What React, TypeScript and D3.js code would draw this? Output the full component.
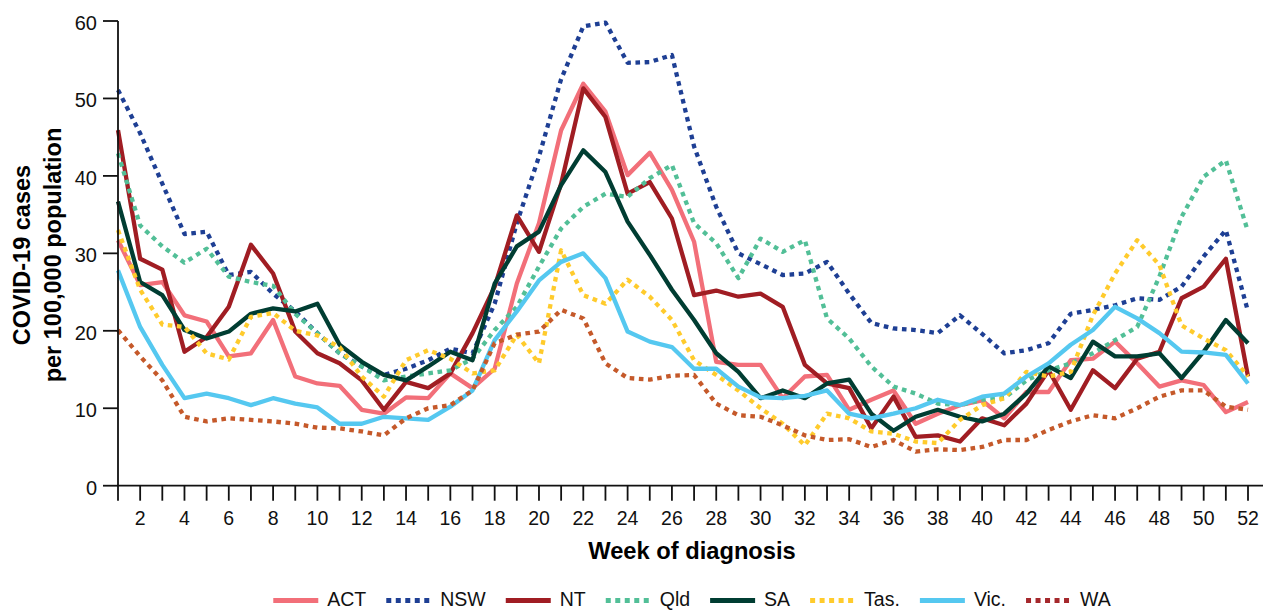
import React, { useMemo } from 'react';
import * as d3 from 'd3';

// Weekly COVID-19 notification rates per 100,000 population, by jurisdiction
const weeks = d3.range(1, 53);

const act = [31.7, 25.9, 26.3, 22, 21.2, 16.7, 17.1, 21.4, 14.1, 13.2, 12.9, 9.8, 9.3, 11.4, 11.3, 14.5, 12.6, 15.1, 26.1, 33.9, 45.9, 51.9, 48.3, 40.1, 43, 38.2, 31.5, 16, 15.6, 15.6, 11.3, 14.1, 14.3, 9.8, 11.1, 12.3, 8, 9.3, 10.4, 11, 8.7, 12.1, 12.1, 16.2, 16.4, 18.6, 15.8, 12.8, 13.6, 13, 9.5, 10.8];
const nsw = [51.1, 45.5, 39, 32.5, 32.8, 27.2, 27.6, 24.8, 22.5, 19.7, 17.1, 15.4, 14.3, 15.1, 16.2, 17.7, 17.1, 23.5, 33.9, 42.5, 52.5, 59.3, 59.8, 54.6, 54.7, 55.6, 43.8, 36, 30, 28.6, 27.2, 27.4, 28.9, 24.8, 21, 20.3, 20.1, 19.7, 22, 19.6, 17.1, 17.5, 18.4, 22.2, 22.7, 23.3, 24.2, 24, 25.7, 29.6, 33, 22.5];
const nt = [45.9, 29.3, 27.9, 17.3, 19.2, 23.1, 31.1, 27.4, 19.9, 17.1, 15.8, 13.6, 9.8, 13.4, 12.6, 14.5, 19.7, 25.7, 34.9, 30.2, 39, 51.3, 47.6, 37.7, 39.2, 34.5, 24.6, 25.2, 24.4, 24.8, 23.1, 15.6, 13.2, 12.6, 7.4, 11.5, 6.3, 6.5, 5.7, 8.7, 7.8, 10.6, 14.9, 9.8, 14.9, 12.6, 16.4, 17.3, 24.2, 25.7, 29.3, 14.1];
const qld = [42.9, 33.6, 30.9, 28.8, 30.6, 27, 26.3, 25.8, 22.2, 19.7, 17.1, 15.4, 13.6, 14.1, 14.5, 14.9, 16.4, 20.1, 23.1, 28.3, 33.2, 36, 37.7, 37.3, 39.7, 41.4, 33.9, 31.3, 26.8, 31.9, 30.2, 31.7, 21.6, 19, 15.4, 12.8, 11.9, 10.6, 10.4, 11.1, 11.3, 13.6, 14.9, 15.8, 17.1, 18.8, 20.5, 27, 34.7, 39.9, 42, 32.8];
const sa = [36.7, 26.3, 24.6, 20.1, 19, 19.9, 22.2, 22.9, 22.5, 23.5, 18.2, 16, 14.3, 13.6, 15.4, 17.3, 16.2, 26.1, 30.9, 32.8, 38.8, 43.3, 40.5, 34.1, 29.8, 25.3, 21.4, 17.1, 14.7, 11.3, 12.3, 11.3, 13.2, 13.7, 9.3, 7.1, 8.9, 9.8, 8.9, 8.3, 9.3, 11.9, 15.4, 13.9, 18.6, 16.7, 16.7, 17.1, 13.9, 17.3, 21.4, 18.4];
const tas = [33, 25.3, 20.8, 20.5, 17.1, 16.3, 21.8, 22.3, 20, 19.4, 17.9, 14.1, 11.5, 16.2, 17.5, 16.4, 14.5, 14.9, 19.5, 15.8, 30.4, 24.6, 23.5, 26.6, 24.4, 21.4, 16.2, 14.3, 12.3, 10, 8, 5.2, 9.3, 8.7, 7, 6.7, 5.7, 5.5, 8.5, 10.4, 11.3, 14.7, 14.1, 14.7, 22, 27.4, 31.7, 28.5, 20.7, 19, 17.5, 14.1];
const vic = [27.8, 20.5, 15.6, 11.3, 11.9, 11.3, 10.4, 11.3, 10.6, 10.1, 8, 8, 8.9, 8.7, 8.5, 10.2, 12.3, 18.8, 22.5, 26.5, 28.9, 30, 26.8, 19.9, 18.6, 17.9, 15.1, 15.1, 12.8, 11.4, 11.3, 11.6, 12.3, 9.3, 8.7, 9.3, 10, 11.1, 10.4, 11.5, 11.9, 14.1, 15.8, 18.2, 20.1, 23.1, 21.6, 19.7, 17.3, 17.2, 16.9, 13.2];
const wa = [20.1, 16.7, 13.6, 8.9, 8.3, 8.7, 8.5, 8.3, 8, 7.5, 7.4, 7, 6.5, 8.7, 10, 10.4, 12.3, 18.4, 19.5, 19.9, 22.7, 21.6, 15.8, 13.9, 13.7, 14.2, 14.3, 10.6, 9.1, 8.9, 7.8, 6.5, 5.9, 6, 5, 5.9, 4.4, 4.7, 4.6, 5, 5.9, 5.9, 7.2, 8.3, 9.1, 8.7, 10, 11.5, 12.3, 12.3, 10.2, 9.8];

const seriesNames = ['ACT', 'NSW', 'NT', 'Qld', 'SA', 'Tas.', 'Vic.', 'WA'];
const seriesValues = [act, nsw, nt, qld, sa, tas, vic, wa];
const seriesColors = ['#F26F79', '#1E3F94', '#A01D23', '#52BF97', '#003D32', '#FFCB2C', '#55C8F0', '#C5592A'];
const legendColors = ['#F26F79', '#1E3F94', '#A01D23', '#52BF97', '#003D32', '#FFCB2C', '#55C8F0', '#A5282C'];
const seriesDotted = [false, true, false, true, false, true, false, true];

const yTickValues = [0, 10, 20, 30, 40, 50, 60];
const xLabelWeeks = weeks.filter((w) => w % 2 === 0);

const yTitleLines = ['COVID-19 cases', 'per 100,000 population'];
const xTitle = 'Week of diagnosis';

const W = 1263;
const H = 610;
const FONT = "'Liberation Sans', Arial, Helvetica, sans-serif";

export default function App() {
  const x = d3.scaleLinear().domain([1, 52]).range([118, 1248]);
  const y = d3.scaleLinear().domain([0, 60]).range([485.7, 21]);

  const line = d3
    .line<number>()
    .x((_, i) => x(weeks[i]))
    .y((d) => y(d))
    .curve(d3.curveLinear);

  // legend layout, centred below the plot
  const legend = useMemo(() => {
    const ctx = document.createElement('canvas').getContext('2d');
    const fontSize = 19.5;
    const swatch = 45;
    const pad = 9;
    const gap = 20;
    let widths = seriesNames.map((n) => n.length * fontSize * 0.6);
    if (ctx) {
      ctx.font = `${fontSize}px ${FONT}`;
      widths = seriesNames.map((n) => ctx.measureText(n).width);
    }
    const total = d3.sum(widths) + seriesNames.length * (swatch + pad) + (seriesNames.length - 1) * gap;
    let cx = 692 - total / 2;
    return seriesNames.map((name, i) => {
      const item = { name, x0: cx, tx: cx + swatch + pad, swatch };
      cx += swatch + pad + widths[i] + gap;
      return item;
    });
  }, []);

  const y0 = y(0);

  return (
    <svg
      width={W}
      height={H}
      style={{ position: 'absolute', left: 0, top: 0, background: '#fff' }}
      fontFamily={FONT}
    >
      <rect width={W} height={H} fill="#fff" />

      {/* series lines */}
      <g fill="none" strokeLinejoin="round">
        {seriesValues.map((vals, i) => (
          <path
            key={seriesNames[i]}
            d={line(vals) || ''}
            stroke={seriesColors[i]}
            strokeWidth={4.3}
            strokeDasharray={seriesDotted[i] ? '4.6 4.6' : undefined}
            strokeLinecap="butt"
          />
        ))}
      </g>

      {/* y axis */}
      <g stroke="#111" strokeWidth={1.8}>
        <line x1={x(1)} x2={x(1)} y1={y(60)} y2={y0} />
        {yTickValues.map((v) => (
          <line key={v} x1={x(1) - 15} x2={x(1)} y1={y(v)} y2={y(v)} />
        ))}
      </g>
      <g fontSize={20} textAnchor="end" fill="#111">
        {yTickValues.map((v) => (
          <text key={v} x={x(1) - 21} y={y(v) + 9}>
            {v}
          </text>
        ))}
      </g>

      {/* x axis */}
      <g stroke="#111" strokeWidth={1.8}>
        <line x1={x(1) - 1} x2={W} y1={y0} y2={y0} />
        {weeks.map((w) => (
          <line key={w} x1={x(w)} x2={x(w)} y1={y0} y2={y0 + 15} />
        ))}
      </g>
      <g fontSize={19.5} textAnchor="middle" fill="#111">
        {xLabelWeeks.map((w) => (
          <text key={w} x={x(w)} y={525}>
            {w}
          </text>
        ))}
      </g>

      {/* axis titles */}
      <text x={692} y={559} textAnchor="middle" fontSize={23.7} fontWeight="bold" fill="#000">
        {xTitle}
      </text>
      <g transform="translate(0,255) rotate(-90)" fontSize={23.5} fontWeight="bold" fill="#000" textAnchor="middle">
        <text x={0} y={30}>{yTitleLines[0]}</text>
        <text x={0} y={61}>{yTitleLines[1]}</text>
      </g>

      {/* legend */}
      <g fontSize={19.5} fill="#111">
        {legend.map((it, i) => (
          <g key={it.name}>
            <line
              x1={it.x0}
              x2={it.x0 + it.swatch}
              y1={600.5}
              y2={600.5}
              stroke={legendColors[i]}
              strokeWidth={5}
              strokeDasharray={seriesDotted[i] ? '5 4.5' : undefined}
            />
            <text x={it.tx} y={606}>
              {it.name}
            </text>
          </g>
        ))}
      </g>
    </svg>
  );
}
